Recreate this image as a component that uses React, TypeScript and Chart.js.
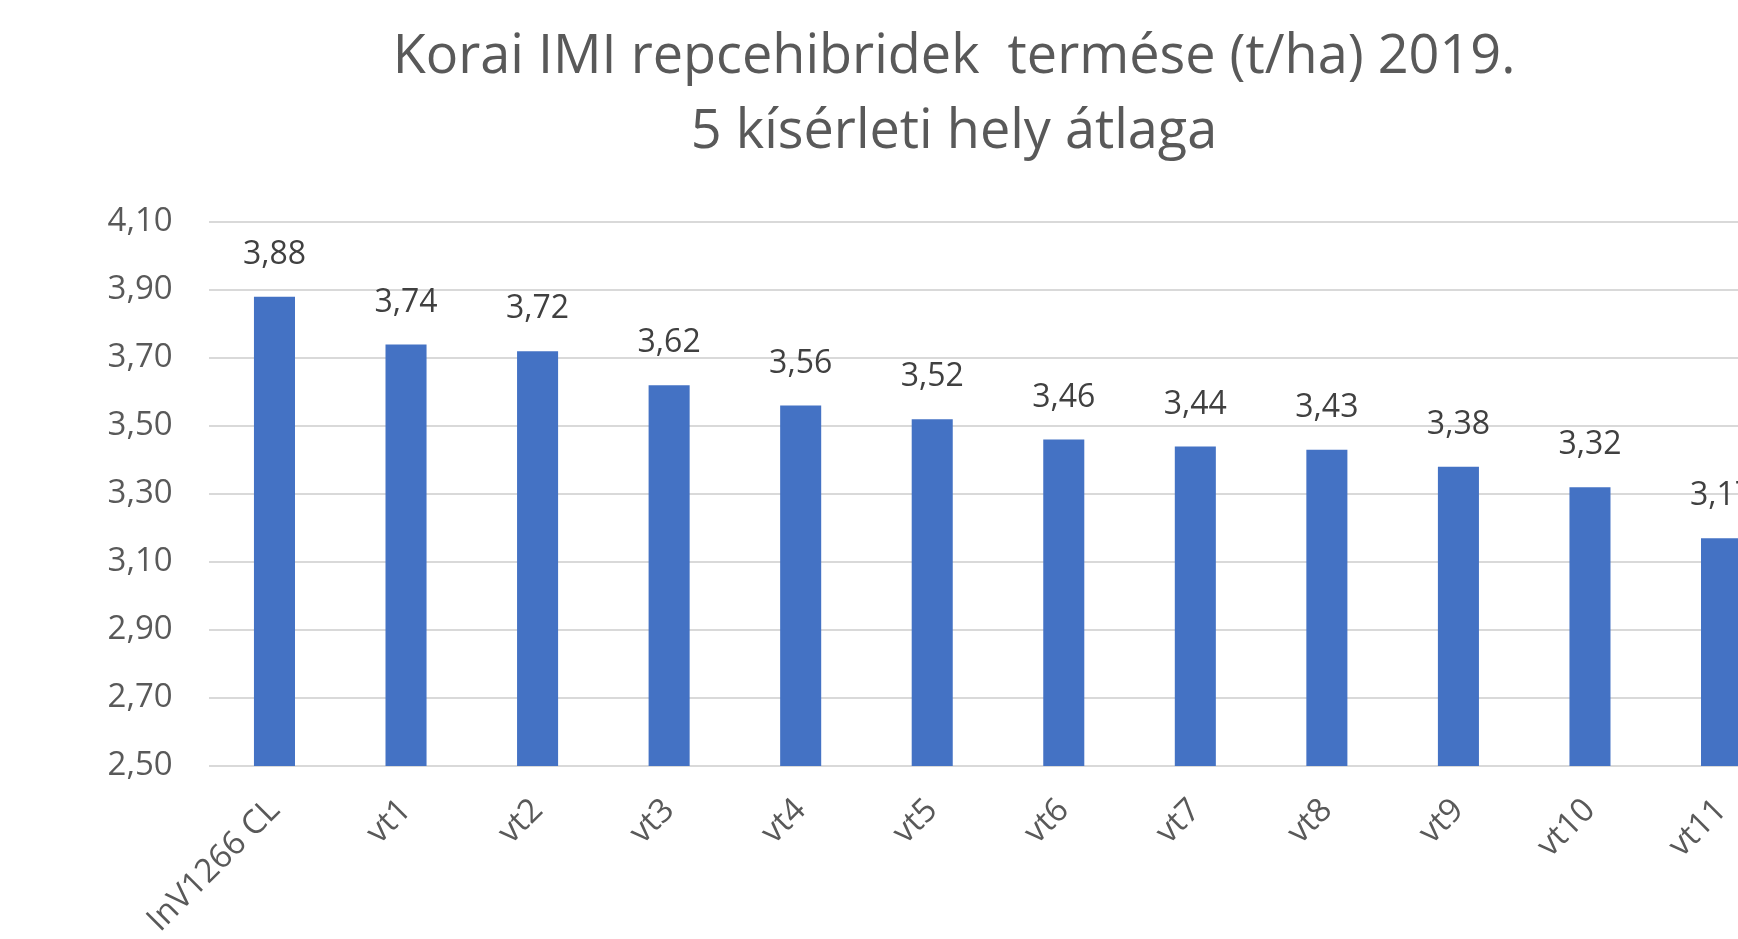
import React, { useEffect, useRef } from "react";
import { Chart, registerables } from "chart.js";

Chart.register(...registerables);

const categories = ["InV1266 CL", "vt1", "vt2", "vt3", "vt4", "vt5", "vt6", "vt7", "vt8", "vt9", "vt10", "vt11"];
const yields = [3.88, 3.74, 3.72, 3.62, 3.56, 3.52, 3.46, 3.44, 3.43, 3.38, 3.32, 3.17];
const titleLines = ["Korai IMI repcehibridek  termése (t/ha) 2019.", "5 kísérleti hely átlaga"];
const yMin = 2.5;
const yMax = 4.1;
const yStep = 0.2;

const fmt = (v: number) => v.toFixed(2).replace(".", ",");

const FONT = "'Open Sans', 'Noto Sans', sans-serif";

const valueLabels = {
  id: "valueLabels",
  afterDatasetsDraw(chart: any) {
    const { ctx } = chart;
    const meta = chart.getDatasetMeta(0);
    ctx.save();
    ctx.font = `32px ${FONT}`;
    ctx.fillStyle = "#404040";
    ctx.textAlign = "center";
    ctx.textBaseline = "middle";
    meta.data.forEach((el: any, i: number) => {
      ctx.fillText(fmt(yields[i]), el.x, el.y - 42);
    });
    ctx.restore();
  },
};

const centeredTitle = {
  id: "centeredTitle",
  afterDraw(chart: any) {
    const { ctx } = chart;
    ctx.save();
    ctx.font = `54px ${FONT}`;
    ctx.fillStyle = "#595959";
    ctx.textAlign = "center";
    ctx.textBaseline = "middle";
    titleLines.forEach((line, i) => {
      ctx.fillText(line, 954, 58 + i * 75);
    });
    ctx.restore();
  },
};

export default function App() {
  const ref = useRef<HTMLCanvasElement | null>(null);
  useEffect(() => {
    if (!ref.current) return;
    const chart = new Chart(ref.current, {
      type: "bar",
      data: {
        labels: categories,
        datasets: [
          {
            data: yields,
            backgroundColor: "#4472C4",
            borderWidth: 0,
            categoryPercentage: 1,
            barPercentage: 0.312,
          },
        ],
      },
      options: {
        animation: false,
        responsive: false,
        maintainAspectRatio: false,
        layout: { padding: { left: 80, right: 120.7, top: 222, bottom: 0 } },
        plugins: {
          legend: { display: false },
          tooltip: { enabled: false },
          title: { display: false },
        },
        scales: {
          x: {
            grid: { display: false },
            border: { display: false },
            ticks: {
              color: "#595959",
              font: { family: FONT, size: 33 },
              maxRotation: 45,
              minRotation: 45,
              autoSkip: false,
              padding: 17,
            },
            afterFit: (s: any) => {
              s.height = 234;
            },
          },
          y: {
            min: yMin,
            max: yMax,
            grid: { color: "#D9D9D9", lineWidth: 2, drawTicks: false },
            border: { display: false },
            ticks: {
              stepSize: yStep,
              color: "#595959",
              font: { family: FONT, size: 33 },
              padding: 36,
              callback: (v: any) => fmt(Number(v)),
            },
            afterFit: (s: any) => {
              s.width = 128.7;
            },
          },
        },
      },
      plugins: [valueLabels, centeredTitle],
    });
    return () => chart.destroy();
  }, []);

  return (
    <div style={{ position: "fixed", left: 0, top: 0, width: 1738, height: 939, overflow: "hidden", background: "#fff" }}>
      <canvas ref={ref} width={1908} height={1000} style={{ position: "absolute", left: 0, top: 0, width: 1908, height: 1000 }} />
    </div>
  );
}
